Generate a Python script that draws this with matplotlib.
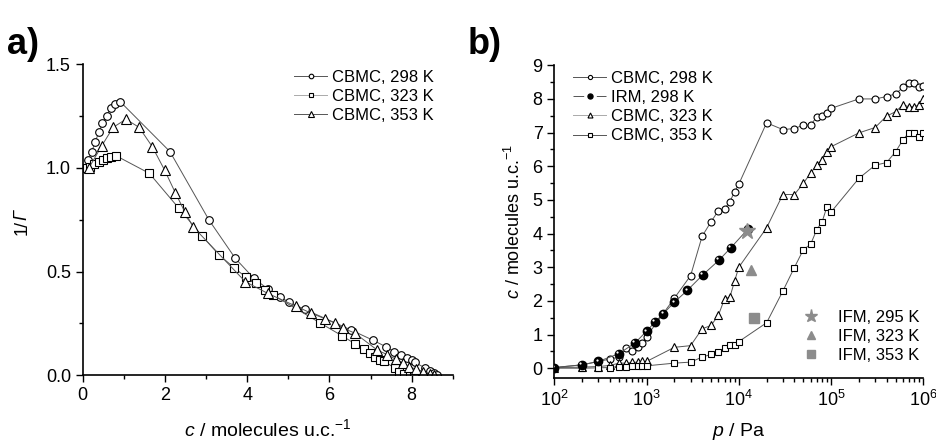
import numpy as np
import matplotlib
matplotlib.use("Agg")
import matplotlib.pyplot as plt
import matplotlib.transforms as mtransforms
from matplotlib.ticker import MultipleLocator, LogLocator, NullFormatter, FormatStrFormatter

plt.rcParams['font.family'] = ['Liberation Sans', 'DejaVu Sans']
plt.rcParams['mathtext.fontset'] = 'custom'
plt.rcParams['mathtext.rm'] = 'Liberation Sans'
plt.rcParams['mathtext.it'] = 'Liberation Sans:italic'
plt.rcParams['mathtext.bf'] = 'Liberation Sans:bold'

# ---- panel a: 1/Gamma vs loading ----
a298_c = [0.14, 0.22, 0.30, 0.39, 0.48, 0.58, 0.68, 0.78, 0.91, 2.12, 3.07, 3.71, 4.16, 4.51,
          4.79, 5.02, 5.40, 6.52, 7.05, 7.37, 7.57, 7.75, 7.89, 8.01, 8.07, 8.33, 8.44, 8.53, 8.62]
a298_y = [1.04, 1.079, 1.124, 1.172, 1.215, 1.253, 1.288, 1.307, 1.320, 1.079, 0.749, 0.564, 0.468, 0.415,
          0.379, 0.352, 0.318, 0.219, 0.170, 0.138, 0.114, 0.098, 0.085, 0.074, 0.063, 0.035, 0.022, 0.010, 0.0]

a323_c = [0.03, 0.10, 0.18, 0.28, 0.39, 0.49, 0.58, 0.69, 0.81, 1.62, 2.34, 2.90, 3.32, 3.68, 3.97,
          4.21, 4.43, 4.63, 5.76, 6.31, 6.63, 6.85, 6.99, 7.11, 7.23, 7.32, 7.60, 7.68, 7.81, 7.95, 8.05]
a323_y = [1.00, 1.002, 1.006, 1.02, 1.027, 1.039, 1.047, 1.055, 1.059, 0.974, 0.805, 0.672, 0.580, 0.519, 0.473,
          0.444, 0.411, 0.387, 0.254, 0.190, 0.151, 0.125, 0.106, 0.087, 0.074, 0.068, 0.034, 0.017, 0.006, 0.003, 0.0]

a353_c = [0.15, 0.46, 0.74, 1.05, 1.37, 1.69, 1.99, 2.25, 2.48, 2.68, 3.95, 4.50, 5.19, 5.56, 5.89,
          6.13, 6.33, 6.62, 7.16, 7.40, 7.62, 7.79, 7.93, 8.10, 8.28, 8.45, 8.55]
a353_y = [1.00, 1.106, 1.196, 1.235, 1.196, 1.103, 0.990, 0.881, 0.789, 0.717, 0.452, 0.395, 0.333, 0.299, 0.273,
          0.252, 0.228, 0.203, 0.122, 0.100, 0.077, 0.058, 0.042, 0.030, 0.018, 0.008, 0.0]

# ---- panel b: isotherms ----
p_grid = [100, 200, 300, 400, 500, 600, 700, 800, 900, 1000, 2000, 3000, 4000, 5000, 6000, 7000,
          8000, 9000, 10000, 20000, 30000, 40000, 50000, 60000, 70000, 80000, 90000, 100000,
          200000, 300000, 400000, 500000, 600000, 700000, 800000, 900000, 1000000]
b298 = [0.02, 0.10, 0.20, 0.27, 0.33, 0.60, 0.50, 0.63, 0.75, 0.94, 2.08, 2.75, 3.92, 4.35, 4.68, 4.73,
        4.95, 5.24, 5.47, 7.29, 7.09, 7.12, 7.22, 7.22, 7.47, 7.49, 7.59, 7.72,
        8.00, 8.00, 8.07, 8.15, 8.34, 8.48, 8.48, 8.34, 8.38]
b323 = [0.02, 0.03, 0.05, 0.08, 0.15, 0.15, 0.17, 0.18, 0.20, 0.20, 0.62, 0.67, 1.17, 1.27, 1.57, 2.06,
        2.11, 2.59, 3.00, 4.17, 5.16, 5.16, 5.49, 5.80, 6.03, 6.20, 6.43, 6.58,
        6.99, 7.15, 7.49, 7.62, 7.82, 7.77, 7.77, 7.82, 7.99]
b353 = [0.00, 0.00, 0.01, 0.02, 0.05, 0.05, 0.06, 0.06, 0.07, 0.07, 0.15, 0.18, 0.33, 0.41, 0.48, 0.60,
        0.70, 0.70, 0.79, 1.35, 2.29, 2.99, 3.52, 3.68, 4.12, 4.35, 4.79, 4.64,
        5.64, 6.03, 6.11, 6.43, 6.78, 7.00, 7.00, 6.88, 7.00]

irm_p = [100, 200, 300, 500, 750, 1000, 1230, 1520, 2000, 2760, 4060, 6100, 8200, 12700]
irm_c = [0.02, 0.10, 0.20, 0.43, 0.75, 1.10, 1.37, 1.62, 1.96, 2.31, 2.77, 3.21, 3.58, 4.15]

ifm_labels = ['IFM, 295 K', 'IFM, 323 K', 'IFM, 353 K']
ifm_p = [12150, 13400, 14700]
ifm_c = [4.08, 2.93, 1.50]
ifm_markers = ['*', '^', 's']

line_kw = dict(color='#555555', lw=0.7, mfc='white', mec='black', mew=0.8)

fig = plt.figure(figsize=(9.37, 4.44), dpi=100)
ax1 = fig.add_axes([0.0883, 0.1547, 0.3950, 0.7005])
ax2 = fig.add_axes([0.5916, 0.1480, 0.3938, 0.7050])

for ax in (ax1, ax2):
    ax.spines['top'].set_visible(False)
    ax.spines['right'].set_visible(False)
    ax.spines['left'].set_linewidth(1.2)
    ax.spines['bottom'].set_linewidth(1.2)
    ax.tick_params(which='major', direction='out', length=5, width=1.0, labelsize=13)
    ax.tick_params(which='minor', direction='out', length=3, width=1.0)

# panel a
ax1.plot(a298_c, a298_y, marker='o', ms=5.5, label='CBMC, 298 K', **line_kw)
ax1.plot(a323_c, a323_y, marker='s', ms=5.5, label='CBMC, 323 K', **line_kw)
ax1.plot(a353_c, a353_y, marker='^', ms=6.5, label='CBMC, 353 K', **line_kw)
ax1.set_xlim(0, 9)
ax1.set_ylim(0, 1.5)
ax1.xaxis.set_major_locator(MultipleLocator(2))
ax1.xaxis.set_minor_locator(MultipleLocator(1))
ax1.yaxis.set_major_locator(MultipleLocator(0.5))
ax1.yaxis.set_minor_locator(MultipleLocator(0.25))
ax1.yaxis.set_major_formatter(FormatStrFormatter('%.1f'))
ax1.set_xlabel(r'$\mathit{c}$ / molecules u.c.$^{-1}$', fontsize=14, labelpad=10)
# y label "1/Γ" with italic Gamma (mathtext keeps capital Greek upright)
ax1.text(-0.165, 0.5, '1/', rotation=90, fontsize=13, ha='center', va='top',
         transform=ax1.transAxes)
ax1.text(-0.165, 0.5, 'Γ', rotation=90, fontsize=13, fontstyle='italic', ha='center',
         va='bottom', transform=ax1.transAxes)
leg1 = ax1.legend(loc='upper right', frameon=False, fontsize=12, handlelength=2.0,
                  markerscale=0.6, labelspacing=0.25, handletextpad=0.3,
                  bbox_to_anchor=(0.99, 1.03))
leg1.get_lines()[1].set_color('#aaaaaa')

# panel b
ax2.plot(p_grid, b298, marker='o', ms=5.0, label='CBMC, 298 K', zorder=3, **line_kw)
ax2.plot(irm_p, irm_c, marker='o', ms=6.0, color='#555555', lw=0.7,
         mfc='black', mec='black', label='IRM, 298 K', zorder=4)
# white highlight on the spheres
hl = mtransforms.offset_copy(ax2.transData, fig=fig, x=-1.2, y=1.2, units='points')
ax2.plot(irm_p, irm_c, ls='none', marker='o', ms=1.6, mfc='white', mec='none',
         transform=hl, zorder=5)
ax2.plot(p_grid, b323, marker='^', ms=6.0, label='CBMC, 323 K', zorder=3, **line_kw)
ax2.plot(p_grid, b353, marker='s', ms=5.0, label='CBMC, 353 K', zorder=3, **line_kw)

ifm_handles = []
for lab, pp, cc, mk in zip(ifm_labels, ifm_p, ifm_c, ifm_markers):
    ms = 12 if mk == '*' else 7.5
    h, = ax2.plot([pp], [cc], ls='none', marker=mk, ms=ms, color='#8c8c8c', mec='#8c8c8c',
                  label=lab, zorder=6)
    ifm_handles.append(h)

ax2.set_xscale('log')
ax2.set_xlim(100, 1e6)
ax2.set_ylim(-0.3, 9)
ax2.yaxis.set_major_locator(MultipleLocator(1))
ax2.yaxis.set_minor_locator(MultipleLocator(0.5))
ax2.xaxis.set_major_locator(LogLocator(base=10))
ax2.xaxis.set_minor_locator(LogLocator(base=10, subs=np.arange(2, 10)))
ax2.xaxis.set_minor_formatter(NullFormatter())
ax2.set_xlabel(r'$\mathit{p}$ / Pa', fontsize=14, labelpad=8)
ax2.set_ylabel(r'$\mathit{c}$ / molecules u.c.$^{-1}$', fontsize=13, labelpad=6)

hands, labs = ax2.get_legend_handles_labels()
main_h = hands[:4]
main_l = labs[:4]
leg2 = ax2.legend(main_h, main_l, loc='upper left', frameon=False, fontsize=12,
                  handlelength=2.0, markerscale=0.6, labelspacing=0.25, handletextpad=0.3,
                  bbox_to_anchor=(0.01, 1.03))
leg2.get_lines()[2].set_color('#aaaaaa')
leg2.get_lines()[1].set_linestyle((0, (11.0, 13.0)))
ax2.add_artist(leg2)
ax2.legend(ifm_handles, ifm_labels, loc='lower right', frameon=False, fontsize=12,
           markerscale=0.8, labelspacing=0.25, handletextpad=0.6,
           bbox_to_anchor=(1.03, 0.0))

fig.text(0.008, 0.94, 'a)', fontsize=26, fontweight='bold', va='top')
fig.text(0.499, 0.94, 'b)', fontsize=26, fontweight='bold', va='top')

fig.savefig('out.png', dpi=100)
